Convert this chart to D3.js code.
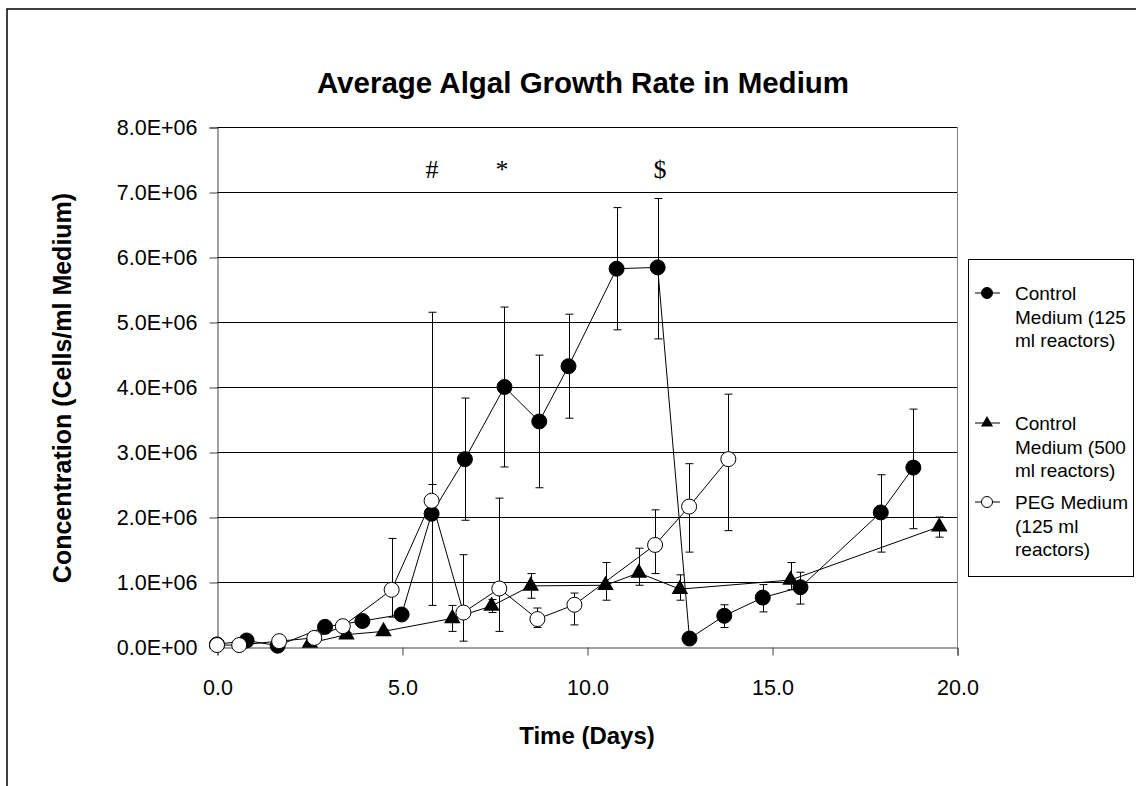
<!DOCTYPE html>
<html>
<head>
<meta charset="utf-8">
<script src="https://cdn.jsdelivr.net/npm/d3@7"></script>
<style>
body { margin: 0; background: #fff; }
text { font-family: "Liberation Sans", Arial, sans-serif; }
</style>
</head>
<body>
<svg width="1136" height="786"></svg>
<script>
// values in millions of cells/ml
var ctlSmallDays = [0, 0.8, 1.64, 2.92, 3.93, 4.99, 5.8, 6.7, 7.77, 8.71, 9.5, 10.8, 11.91, 12.77, 13.71, 14.75, 15.77, 17.94, 18.82];
var ctlSmallConc = [0.04, 0.1, 0.02, 0.31, 0.4, 0.5, 2.05, 2.89, 4.0, 3.47, 4.32, 5.82, 5.84, 0.13, 0.48, 0.76, 0.92, 2.07, 2.76];
var ctlSmallErrUp = [0.02, 0.03, 0.02, 0.05, 0.05, 0.06, 0.45, 0.94, 1.23, 1.02, 0.8, 0.94, 1.06, 0.05, 0.17, 0.2, 0.23, 0.58, 0.9];
var ctlSmallErrDn = [0.02, 0.03, 0.02, 0.05, 0.05, 0.06, 1.41, 0.94, 1.23, 1.02, 0.8, 0.94, 1.1, 0.05, 0.18, 0.22, 0.26, 0.61, 0.94];

var ctlLargeDays = [2.51, 3.5, 4.5, 6.36, 7.42, 8.48, 10.5, 11.4, 12.51, 15.5, 19.52];
var ctlLargeConc = [0.06, 0.19, 0.24, 0.44, 0.63, 0.94, 0.95, 1.14, 0.89, 1.03, 1.85];
var ctlLargeErrUp = [0.02, 0.03, 0.03, 0.2, 0.1, 0.19, 0.35, 0.38, 0.22, 0.27, 0.15];
var ctlLargeErrDn = [0.02, 0.03, 0.03, 0.2, 0.1, 0.19, 0.23, 0.19, 0.17, 0.15, 0.16];

var pegDays = [0, 0.6, 1.68, 2.63, 3.4, 4.72, 5.8, 6.66, 7.63, 8.66, 9.66, 11.84, 12.76, 13.82];
var pegConc = [0.03, 0.03, 0.09, 0.14, 0.32, 0.88, 2.25, 0.53, 0.9, 0.43, 0.65, 1.57, 2.16, 2.89];
var pegErrUp = [0.02, 0.02, 0.03, 0.04, 0.05, 0.79, 2.9, 0.89, 1.39, 0.17, 0.18, 0.54, 0.66, 1.0];
var pegErrDn = [0.02, 0.02, 0.03, 0.04, 0.05, 0.42, 0.27, 0.44, 0.66, 0.13, 0.31, 0.44, 0.7, 1.1];

var seriesNames = [["Control", "Medium (125", "ml reactors)"], ["Control", "Medium (500", "ml reactors)"], ["PEG Medium", "(125 ml", "reactors)"]];

var xTicks = [0, 5, 10, 15, 20];
var xTickLabels = ["0.0", "5.0", "10.0", "15.0", "20.0"];
var yTicks = [0, 1, 2, 3, 4, 5, 6, 7, 8];
var yTickLabels = ["0.0E+00", "1.0E+06", "2.0E+06", "3.0E+06", "4.0E+06", "5.0E+06", "6.0E+06", "7.0E+06", "8.0E+06"];

var markLabels = ["#", "*", "$"];
var markDays = [5.81, 7.7, 11.97];
var markConc = [7.37, 7.37, 7.37];

var svg = d3.select("svg");
var pLeft = 217, pRight = 957, pTop = 127, pBottom = 647;

var x = d3.scaleLinear().domain([0, 20]).range([pLeft, pRight]);
var y = d3.scaleLinear().domain([0, 8]).range([pBottom, pTop]);

// outer frame
svg.append("rect").attr("x", 7).attr("y", 9).attr("width", 1140).attr("height", 800)
  .attr("fill", "none").attr("stroke", "#000").attr("stroke-width", 1.5);

svg.append("text").attr("x", 583).attr("y", 93).attr("text-anchor", "middle")
  .style("font-size", "29.5px").style("font-weight", "bold").text("Average Algal Growth Rate in Medium");

// gridlines
svg.append("g").selectAll("line").data(yTicks.slice(1)).enter().append("line")
  .attr("x1", pLeft).attr("x2", pRight)
  .attr("y1", function(d) { return Math.round(y(d)) + 0.5; })
  .attr("y2", function(d) { return Math.round(y(d)) + 0.5; })
  .attr("stroke", "#000").attr("stroke-width", 1);

svg.append("line").attr("x1", pRight + 0.5).attr("x2", pRight + 0.5).attr("y1", pTop).attr("y2", pBottom)
  .attr("stroke", "#808080");

var yAxis = svg.append("g").attr("transform", "translate(" + (pLeft + 0.5) + ",0.5)")
  .call(d3.axisLeft(y).tickValues(yTicks).tickFormat(function(d, i) { return yTickLabels[i]; }).tickSizeOuter(0).tickSize(8).tickPadding(12));
var xAxis = svg.append("g").attr("transform", "translate(0.5," + (pBottom + 0.5) + ")")
  .call(d3.axisBottom(x).tickValues(xTicks).tickFormat(function(d, i) { return xTickLabels[i]; }).tickSizeOuter(0).tickSize(8).tickPadding(24));
[yAxis, xAxis].forEach(function(a) {
  a.select(".domain").attr("stroke", "#404040");
  a.selectAll(".tick line").attr("stroke", "#404040");
  a.selectAll("text").style("font-size", "21.5px").style("font-family", "Liberation Sans, Arial, sans-serif").attr("fill", "#000");
});

svg.append("text").attr("x", 587).attr("y", 744).attr("text-anchor", "middle")
  .style("font-size", "24px").style("font-weight", "bold").text("Time (Days)");
svg.append("text").attr("transform", "translate(71,388) rotate(-90)").attr("text-anchor", "middle")
  .style("font-size", "25px").style("font-weight", "bold").text("Concentration (Cells/ml Medium)");

svg.append("g").selectAll("text").data(markLabels).enter().append("text")
  .attr("x", function(d, i) { return x(markDays[i]); })
  .attr("y", function(d, i) { return y(markConc[i]) + 10; })
  .attr("text-anchor", "middle")
  .style("font-family", "Liberation Serif, Times New Roman, serif").style("font-size", "26px")
  .text(function(d) { return d; });

var series = [
  {days: ctlSmallDays, conc: ctlSmallConc, up: ctlSmallErrUp, dn: ctlSmallErrDn, mark: "dot"},
  {days: ctlLargeDays, conc: ctlLargeConc, up: ctlLargeErrUp, dn: ctlLargeErrDn, mark: "tri"},
  {days: pegDays, conc: pegConc, up: pegErrUp, dn: pegErrDn, mark: "open"}
];

var line = d3.line().x(function(d) { return x(d[0]); }).y(function(d) { return y(d[1]); });

function drawMarker(g, kind, r) {
  if (kind == "tri") {
    g.append("path").attr("d", d3.symbol().type(d3.symbolTriangle).size(r * r * 2.1)).attr("fill", "#000");
  } else {
    g.append("circle").attr("r", r).attr("fill", kind == "dot" ? "#000" : "#fff").attr("stroke", "#000").attr("stroke-width", 1);
  }
}

series.forEach(function(s) {
  var pts = s.days.map(function(d, i) { return [d, s.conc[i], s.up[i], s.dn[i]]; });
  var g = svg.append("g");
  var eb = g.append("g").attr("stroke", "#000").attr("stroke-width", 1);
  pts.forEach(function(p) {
    var cx = Math.round(x(p[0])) + 0.5;
    var hi = y(Math.min(8, p[1] + p[2])), lo = y(Math.max(0, p[1] - p[3]));
    eb.append("line").attr("x1", cx).attr("x2", cx).attr("y1", hi).attr("y2", lo);
    eb.append("line").attr("x1", cx - 4).attr("x2", cx + 4).attr("y1", hi).attr("y2", hi);
    if (p[1] - p[3] > 0) eb.append("line").attr("x1", cx - 4).attr("x2", cx + 4).attr("y1", lo).attr("y2", lo);
  });
  g.append("path").datum(pts).attr("d", line).attr("fill", "none").attr("stroke", "#000").attr("stroke-width", 1);
  pts.forEach(function(p) {
    var m = g.append("g").attr("transform", "translate(" + x(p[0]) + "," + y(p[1]) + ")");
    drawMarker(m, s.mark, 7.5);
  });
});

// legend
var legend = svg.append("g");
legend.append("rect").attr("x", 968.5).attr("y", 259.5).attr("width", 165).attr("height", 317)
  .attr("fill", "#fff").attr("stroke", "#000");
var entryY = [293, 423, 502];
series.forEach(function(s, i) {
  var e = legend.append("g").attr("transform", "translate(0," + entryY[i] + ")");
  e.append("line").attr("x1", 975).attr("x2", 1000).attr("y1", 0).attr("y2", 0).attr("stroke", "#000");
  var m = e.append("g").attr("transform", "translate(987,0)");
  drawMarker(m, s.mark, 5.5);
  seriesNames[i].forEach(function(t, j) {
    e.append("text").attr("x", 1015).attr("y", 7 + j * 23.5).style("font-size", "19px").text(t);
  });
});
</script>
</body>
</html>
